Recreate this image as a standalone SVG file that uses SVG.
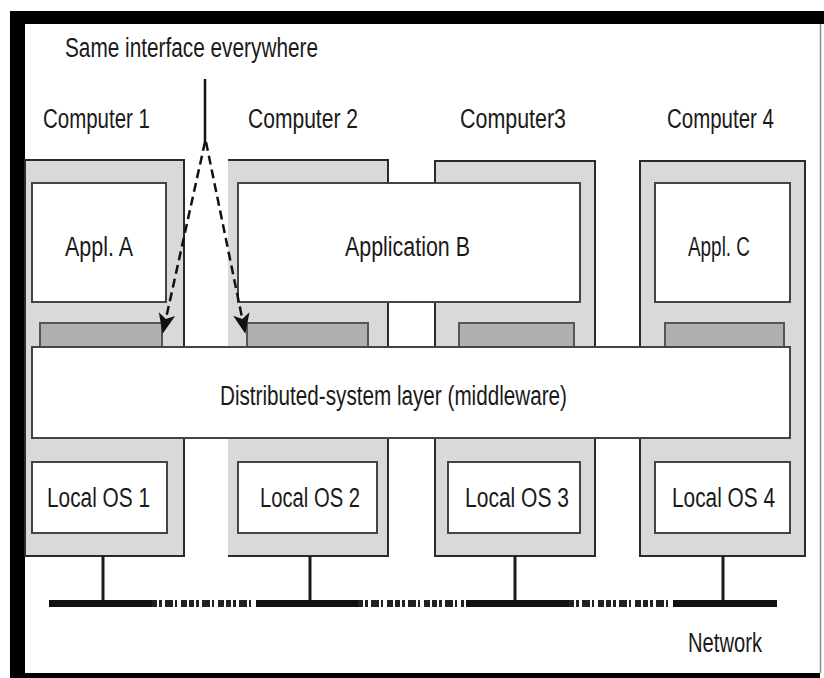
<svg xmlns="http://www.w3.org/2000/svg" width="824" height="678" viewBox="0 0 824 678">
  <style>
    .pc { fill: #d9d9d9; stroke: #2a2a2a; stroke-width: 2; }
    .pcedge { fill: none; stroke: #2a2a2a; stroke-width: 2; }
    .box { fill: #ffffff; stroke: #444444; stroke-width: 2; }
    .iface { fill: #b0b0b0; stroke: #555555; stroke-width: 2; }
    .lbl { font-family: "Liberation Sans", Arial, sans-serif; font-size: 27px; fill: #1a1a1a; }
    .stem { stroke: #1a1a1a; stroke-width: 3; }
    .bus { stroke: #111111; stroke-width: 7; }
    .busdash { stroke: #222222; stroke-width: 7; stroke-dasharray: 5 2 3 3 8 2 2 4 6 2; }
    .arrow { fill: none; stroke: #111111; stroke-width: 2.5; }
    .dashed { stroke-dasharray: 9 5; }
  </style>
  <defs>
    <marker id="tip" viewBox="0 0 12 12" refX="11" refY="6" markerWidth="20" markerHeight="20" markerUnits="userSpaceOnUse" orient="auto">
      <path d="M0,1 L12,6 L0,11 L3,6 Z" fill="#111111"/>
    </marker>
  </defs>

  <!-- outer frame -->
  <rect x="0" y="0" width="824" height="678" fill="#ffffff"/>
  <path d="M10,11 H824 V24 H25 V673 H820 V678 H10 Z" fill="#000000"/>
  <line x1="820.5" y1="24" x2="820.5" y2="673" stroke="#8a8a8a" stroke-width="1.5"/>

  <!-- computers -->
  <g id="computer1">
    <rect class="pc" x="25" y="160" width="159" height="396"/>
    <text class="lbl" x="43" y="128" textLength="107" lengthAdjust="spacingAndGlyphs">Computer 1</text>
  </g>
  <g id="computer2">
    <rect x="228" y="160" width="160" height="396" fill="#d9d9d9"/>
    <path class="pcedge" d="M228,160 H388 V556 H228"/>
    <text class="lbl" x="248" y="128" textLength="110" lengthAdjust="spacingAndGlyphs">Computer 2</text>
  </g>
  <g id="computer3">
    <rect class="pc" x="435" y="161" width="160" height="395"/>
    <text class="lbl" x="460" y="128" textLength="106" lengthAdjust="spacingAndGlyphs">Computer3</text>
  </g>
  <g id="computer4">
    <rect class="pc" x="640" y="161" width="165" height="395" stroke-width="3"/>
    <text class="lbl" x="667" y="128" textLength="107" lengthAdjust="spacingAndGlyphs">Computer 4</text>
  </g>

  <!-- applications -->
  <g id="applA">
    <rect class="box" x="32" y="183" width="134" height="119"/>
    <text class="lbl" x="65" y="256" textLength="68" lengthAdjust="spacingAndGlyphs">Appl. A</text>
  </g>
  <g id="applB">
    <rect class="box" x="238" y="183" width="342" height="119"/>
    <text class="lbl" x="345" y="256" textLength="125" lengthAdjust="spacingAndGlyphs">Application B</text>
  </g>
  <g id="applC">
    <rect class="box" x="655" y="183" width="135" height="119"/>
    <text class="lbl" x="688" y="256" textLength="62" lengthAdjust="spacingAndGlyphs">Appl. C</text>
  </g>

  <!-- middleware interfaces -->
  <g id="interfaces">
    <rect class="iface" x="40" y="323" width="122" height="24"/>
    <rect class="iface" x="247" y="323" width="121" height="24"/>
    <rect class="iface" x="459" y="323" width="115" height="24"/>
    <rect class="iface" x="665" y="323" width="119" height="24"/>
  </g>

  <!-- middleware layer -->
  <g id="middleware">
    <rect class="box" x="32" y="347" width="758" height="91"/>
    <text class="lbl" x="220" y="405" textLength="347" lengthAdjust="spacingAndGlyphs">Distributed-system layer (middleware)</text>
  </g>

  <!-- local operating systems -->
  <g id="os1">
    <rect class="box" x="32" y="462" width="135" height="71"/>
    <text class="lbl" x="47" y="507" textLength="103" lengthAdjust="spacingAndGlyphs">Local OS 1</text>
  </g>
  <g id="os2">
    <rect class="box" x="238" y="462" width="139" height="71"/>
    <text class="lbl" x="260" y="507" textLength="100" lengthAdjust="spacingAndGlyphs">Local OS 2</text>
  </g>
  <g id="os3">
    <rect class="box" x="448" y="462" width="132" height="71"/>
    <text class="lbl" x="465" y="507" textLength="104" lengthAdjust="spacingAndGlyphs">Local OS 3</text>
  </g>
  <g id="os4">
    <rect class="box" x="655" y="462" width="135" height="71"/>
    <text class="lbl" x="672" y="507" textLength="103" lengthAdjust="spacingAndGlyphs">Local OS 4</text>
  </g>

  <!-- network -->
  <g id="network">
    <line class="stem" x1="103" y1="556" x2="103" y2="601"/>
    <line class="stem" x1="310" y1="556" x2="310" y2="601"/>
    <line class="stem" x1="515" y1="556" x2="515" y2="601"/>
    <line class="stem" x1="723" y1="556" x2="723" y2="601"/>
    <line class="bus" x1="49" y1="603.5" x2="152" y2="603.5"/>
    <line class="busdash" x1="152" y1="603.5" x2="252" y2="603.5"/>
    <line class="bus" x1="256" y1="603.5" x2="358" y2="603.5"/>
    <line class="busdash" x1="358" y1="603.5" x2="464" y2="603.5"/>
    <line class="bus" x1="466" y1="603.5" x2="569" y2="603.5"/>
    <line class="busdash" x1="569" y1="603.5" x2="671" y2="603.5"/>
    <line class="bus" x1="673" y1="603.5" x2="777" y2="603.5"/>
    <text class="lbl" x="688" y="652" textLength="74" lengthAdjust="spacingAndGlyphs">Network</text>
  </g>

  <!-- interface callout -->
  <g id="interface-note">
    <text class="lbl" x="65" y="57" textLength="253" lengthAdjust="spacingAndGlyphs">Same interface everywhere</text>
  </g>
  <g id="connectors">
    <line class="arrow" x1="205" y1="79" x2="205" y2="142"/>
    <line class="arrow dashed" x1="205" y1="142" x2="163" y2="332" marker-end="url(#tip)"/>
    <line class="arrow dashed" x1="206" y1="142" x2="245" y2="332" marker-end="url(#tip)"/>
  </g>
</svg>
